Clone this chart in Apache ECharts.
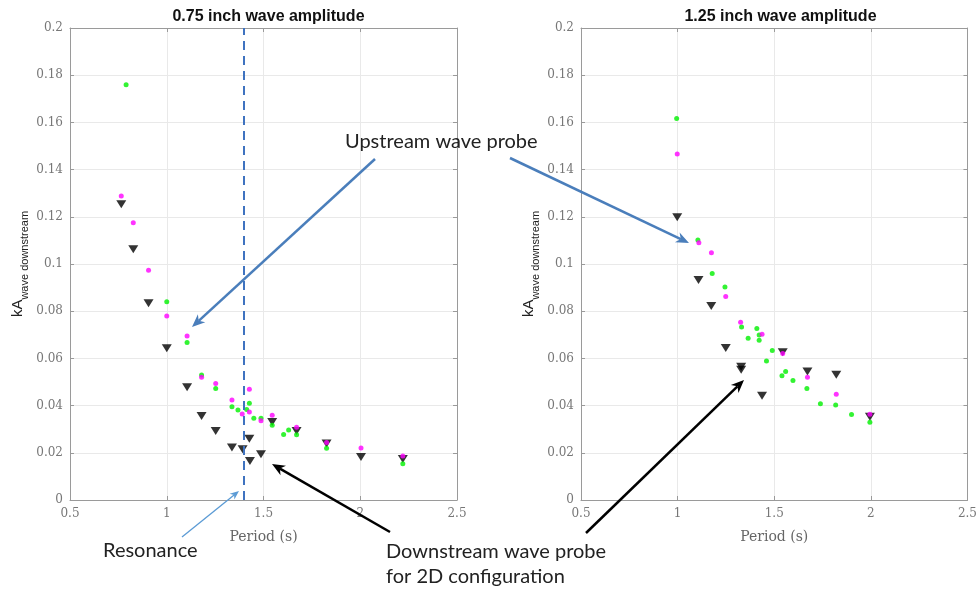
<!DOCTYPE html>
<html>
<head>
<meta charset="utf-8">
<script src="https://cdn.jsdelivr.net/npm/echarts@6/dist/echarts.min.js"></script>
<style>
html, body { margin: 0; padding: 0; background: #fff; }
#main { width: 980px; height: 590px; }
</style>
</head>
<body>
<div id="main"></div>
<script>
// 0.75 inch wave amplitude: [period (s), kA]
var green075 = [[0.79, 0.176], [1.0, 0.084], [1.105, 0.0667], [1.18, 0.053], [1.253, 0.0472],
    [1.337, 0.0395], [1.368, 0.0381], [1.413, 0.0384], [1.427, 0.041], [1.45, 0.0346],
    [1.487, 0.0346], [1.545, 0.0317], [1.604, 0.0278], [1.63, 0.0297], [1.671, 0.0277],
    [1.826, 0.0219], [2.22, 0.0154]];
var magenta075 = [[0.765, 0.1288], [0.827, 0.1175], [0.906, 0.0973], [1.0, 0.078], [1.105, 0.0695],
    [1.18, 0.052], [1.253, 0.0494], [1.337, 0.0424], [1.39, 0.0364], [1.427, 0.0469],
    [1.427, 0.0373], [1.487, 0.0336], [1.545, 0.0359], [1.671, 0.0308], [1.826, 0.0244],
    [2.004, 0.022], [2.22, 0.0186]];
var black075 = [[0.765, 0.1253], [0.827, 0.1062], [0.906, 0.0834], [1.0, 0.0643], [1.105, 0.0478],
    [1.18, 0.0356], [1.253, 0.0292], [1.337, 0.0222], [1.392, 0.0215], [1.427, 0.026],
    [1.43, 0.0165], [1.487, 0.0194], [1.545, 0.033], [1.671, 0.0292], [1.826, 0.0239],
    [2.004, 0.0182], [2.22, 0.0174]];

// 1.25 inch wave amplitude
var green125 = [[0.995, 0.1617], [1.105, 0.1102], [1.179, 0.096], [1.245, 0.0903], [1.331, 0.0733],
    [1.365, 0.0685], [1.41, 0.0727], [1.422, 0.0699], [1.422, 0.0677], [1.46, 0.0589],
    [1.49, 0.0633], [1.54, 0.0527], [1.559, 0.0544], [1.597, 0.0506], [1.669, 0.0472],
    [1.739, 0.0408], [1.818, 0.0403], [1.9, 0.0362], [1.995, 0.0329]];
var magenta125 = [[0.998, 0.1466], [1.11, 0.109], [1.175, 0.1048], [1.249, 0.0862], [1.326, 0.0753],
    [1.437, 0.0702], [1.544, 0.0621], [1.672, 0.052], [1.821, 0.0448], [1.995, 0.0363]];
var black125 = [[0.998, 0.1198], [1.108, 0.0932], [1.174, 0.0822], [1.249, 0.0644], [1.329, 0.0565],
    [1.329, 0.0552], [1.437, 0.0442], [1.544, 0.0626], [1.672, 0.0544], [1.821, 0.0531],
    [1.995, 0.0353]];

var titles = ['0.75 inch wave amplitude', '1.25 inch wave amplitude'];
var xMin = 0.5, xMax = 2.5, xStep = 0.5;
var yMin = 0, yMax = 0.2, yStep = 0.02;
var resonancePeriod = 1.4;

var serif = 'DejaVu Serif';
var sans = 'Liberation Sans';
var note = 'Lato';
var gridColor = '#e9e9e9';
var frameColor = '#9a9a9a';

var grids = [
    {left: 70, top: 28, width: 387, height: 472},
    {left: 581, top: 28, width: 389, height: 472}
];

function mainX(i) {
    return {
        gridIndex: i, type: 'value', min: xMin, max: xMax, interval: xStep, position: 'bottom',
        name: 'Period (s)', nameLocation: 'middle', nameGap: 30,
        nameTextStyle: {fontFamily: serif, fontSize: 14, color: '#666'},
        axisLine: {onZero: false, lineStyle: {color: frameColor}},
        axisTick: {inside: true, length: 4, lineStyle: {color: frameColor}},
        axisLabel: {fontFamily: serif, fontSize: 12, color: '#777', margin: 8},
        splitLine: {lineStyle: {color: gridColor}}
    };
}
function mainY(i) {
    return {
        gridIndex: i, type: 'value', min: yMin, max: yMax, interval: yStep, position: 'left',
        name: '{a|kA}{b|wave downstream}', nameLocation: 'middle', nameGap: 40,
        nameTextStyle: {
            rich: {
                a: {fontFamily: sans, fontSize: 15, color: '#222', lineHeight: 18, verticalAlign: 'top'},
                b: {fontFamily: sans, fontSize: 11, color: '#222', lineHeight: 20, verticalAlign: 'bottom'}
            }
        },
        axisLine: {onZero: false, lineStyle: {color: frameColor}},
        axisTick: {inside: true, length: 4, lineStyle: {color: frameColor}},
        axisLabel: {fontFamily: serif, fontSize: 12, color: '#777', margin: 7},
        splitLine: {lineStyle: {color: gridColor}}
    };
}
// box edges (top / right) like the original figure
function boxX(i) {
    return {
        gridIndex: i, type: 'value', min: xMin, max: xMax, interval: xStep, position: 'top',
        axisLine: {onZero: false, lineStyle: {color: frameColor}},
        axisTick: {inside: true, length: 4, lineStyle: {color: frameColor}},
        axisLabel: {show: false}, splitLine: {show: false}
    };
}
function boxY(i) {
    return {
        gridIndex: i, type: 'value', min: yMin, max: yMax, interval: yStep, position: 'right',
        axisLine: {onZero: false, lineStyle: {color: frameColor}},
        axisTick: {inside: true, length: 4, lineStyle: {color: frameColor}},
        axisLabel: {show: false}, splitLine: {show: false}
    };
}

function dots(data, color, i) {
    return {
        type: 'scatter', xAxisIndex: i, yAxisIndex: i, data: data,
        symbol: 'circle', symbolSize: 5, itemStyle: {color: color}, silent: true
    };
}
function tris(data, i) {
    return {
        type: 'scatter', xAxisIndex: i, yAxisIndex: i, data: data,
        symbol: 'triangle', symbolRotate: 180, symbolSize: [10, 8],
        itemStyle: {color: '#000'}, silent: true
    };
}

function arrow(x1, y1, x2, y2, color, w, head) {
    var ang = Math.atan2(y2 - y1, x2 - x1);
    var bx = x2 - head * Math.cos(ang), by = y2 - head * Math.sin(ang);
    var hw = head * 0.42;
    var px = -Math.sin(ang) * hw, py = Math.cos(ang) * hw;
    var mx = x2 - head * 0.7 * Math.cos(ang), my = y2 - head * 0.7 * Math.sin(ang);
    return [
        {type: 'line', z: 100, shape: {x1: x1, y1: y1, x2: mx, y2: my},
            style: {stroke: color, lineWidth: w}},
        {type: 'polygon', z: 101, shape: {points: [[x2, y2], [bx + px, by + py], [mx, my], [bx - px, by - py]]},
            style: {fill: color}}
    ];
}
function label(text, x, y) {
    return {type: 'text', z: 102, x: x, y: y,
        style: {text: text, fontFamily: note, fontSize: 20, fill: '#222', textVerticalAlign: 'middle'}};
}

var notes = [].concat(
    label('Upstream wave probe', 345, 142),
    label('Resonance', 103, 551),
    label('Downstream wave probe', 386, 552),
    label('for 2D configuration', 386, 577),
    arrow(375, 159, 192, 327, '#4a7ebb', 2.5, 13),
    arrow(510, 158, 689, 243, '#4a7ebb', 2.5, 13),
    arrow(182, 537, 239, 491, '#5b9bd5', 1.3, 9),
    arrow(390, 532, 272, 464, '#000', 2.5, 13),
    arrow(586, 533, 744, 380, '#000', 2.5, 13)
);

var chart = echarts.init(document.getElementById('main'));
var option = {
    animation: false,
    backgroundColor: '#fff',
    title: titles.map(function (t, i) {
        return {
            text: t, left: grids[i].left + grids[i].width / 2, top: 4, textAlign: 'center',
            textStyle: {fontFamily: sans, fontSize: 16, fontWeight: 'bold', color: '#111'}
        };
    }),
    grid: grids,
    xAxis: [mainX(0), mainX(1), boxX(0), boxX(1)],
    yAxis: [mainY(0), mainY(1), boxY(0), boxY(1)],
    series: [
        tris(black075, 0),
        dots(green075, '#00f000', 0),
        dots(magenta075, '#ff00ff', 0),
        tris(black125, 1),
        dots(green125, '#00f000', 1),
        dots(magenta125, '#ff00ff', 1),
        {
            type: 'scatter', xAxisIndex: 0, yAxisIndex: 0, data: [],
            markLine: {
                silent: true, symbol: 'none', label: {show: false},
                lineStyle: {color: '#3f73c0', type: [9, 6], width: 2},
                data: [{xAxis: resonancePeriod}]
            }
        }
    ],
    graphic: notes
};
chart.setOption(option);
</script>
</body>
</html>
